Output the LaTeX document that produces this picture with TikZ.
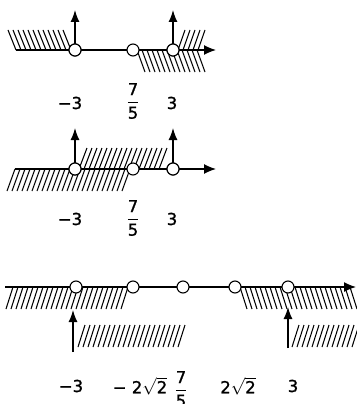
\documentclass[tikz,border=0pt]{standalone}
\usepackage{fontspec}
\usepackage{amsmath}
\setmainfont{DejaVu Sans}
\newfontfamily\labfont{DejaVu Sans}[FakeBold=1.2]
\usetikzlibrary{arrows.meta}
\tikzset{
  axisline/.style={line width=1.3pt, -{Latex[length=12pt,width=10pt]}},
  uparrow/.style={line width=1.3pt, -{Latex[length=12pt,width=9pt]}},
  hatchline/.style={line width=1.05pt},
  pt/.style={circle, draw, fill=white, line width=1.1pt, minimum size=12pt, inner sep=0pt},
  lab/.style={font=\labfont\fontsize{16.5}{18}\selectfont, text=black, inner sep=0pt}
}
\begin{document}
\begin{tikzpicture}[x=1pt,y=-1pt]
\useasboundingbox (0,0) rectangle (356,404);
% ---------- diagram 1 ----------
\foreach \x in {8,13,...,66} \draw[hatchline] (\x,30) -- (\x+8,50);
\foreach \x in {137,142,...,199} \draw[hatchline] (\x,50) -- (\x+8,72);
\foreach \x in {178,183,...,200} \draw[hatchline] (\x,50) -- (\x+7,30);
\coordinate (s1) at (16,50);
\coordinate (e1) at (216,50);
\draw[axisline] (s1) -- (e1);
\node[pt] (a1) at (75,50) {};
\node[pt] (b1) at (133,50) {};
\node[pt] (c1) at (173,50) {};
\coordinate (ta1) at (75,10);
\coordinate (tc1) at (173,10);
\draw[uparrow] (a1.center) -- (ta1);
\draw[uparrow] (c1.center) -- (tc1);
\node[pt] at (a1) {};
\node[pt] at (c1) {};
\node[lab] (l11) at (70,103) {−3};
\node[lab] (l12) at (133,101) {$\dfrac{\text{7}}{\text{5}}$};
\node[lab] (l13) at (172,103) {3};
% ---------- diagram 2 ----------
\foreach \x in {79,84,...,162} \draw[hatchline] (\x,169) -- (\x+8,148);
\foreach \x in {7,12,...,122} \draw[hatchline] (\x,191) -- (\x+8,169);
\coordinate (s2) at (15,169);
\coordinate (e2) at (216,169);
\draw[axisline] (s2) -- (e2);
\node[pt] (a2) at (75,169) {};
\node[pt] (b2) at (133,169) {};
\node[pt] (c2) at (173,169) {};
\coordinate (ta2) at (75,128);
\coordinate (tc2) at (173,128);
\draw[uparrow] (a2.center) -- (ta2);
\draw[uparrow] (c2.center) -- (tc2);
\node[pt] at (a2) {};
\node[pt] at (c2) {};
\node[lab] (l21) at (70,219) {−3};
\node[lab] (l22) at (133,218) {$\dfrac{\text{7}}{\text{5}}$};
\node[lab] (l23) at (172,219) {3};
% ---------- diagram 3 ----------
\foreach \x in {6,11,...,121} \draw[hatchline] (\x,309) -- (\x+7,287);
\foreach \x in {240,245,...,352} \draw[hatchline] (\x,287) -- (\x+7,309);
\foreach \x in {78,83,...,180} \draw[hatchline] (\x,347) -- (\x+7,325);
\foreach \x in {292,297,...,352} \draw[hatchline] (\x,347) -- (\x+7,325);
\coordinate (s3) at (5,287);
\coordinate (e3) at (356,287);
\draw[axisline] (s3) -- (e3);
\node[pt] (a3) at (76,287) {};
\node[pt] (b3) at (133,287) {};
\node[pt] (c3) at (183,287) {};
\node[pt] (d3) at (235,287) {};
\node[pt] (f3) at (288,287) {};
\coordinate (ba3) at (73,352);
\coordinate (ta3) at (73,310);
\coordinate (bf3) at (288,348);
\coordinate (tf3) at (288,307);
\draw[uparrow] (ba3) -- (ta3);
\draw[uparrow] (bf3) -- (tf3);
\node[lab] (l31) at (71,386) {−3};
\node[lab] (l32) at (140,386) {− 2$\sqrt{\text{2}}$};
\node[lab] (l33) at (181,389) {$\dfrac{\text{7}}{\text{5}}$};
\node[lab] (l34) at (238,386) {2$\sqrt{\text{2}}$};
\node[lab] (l35) at (293,386) {3};
\end{tikzpicture}
\end{document}
